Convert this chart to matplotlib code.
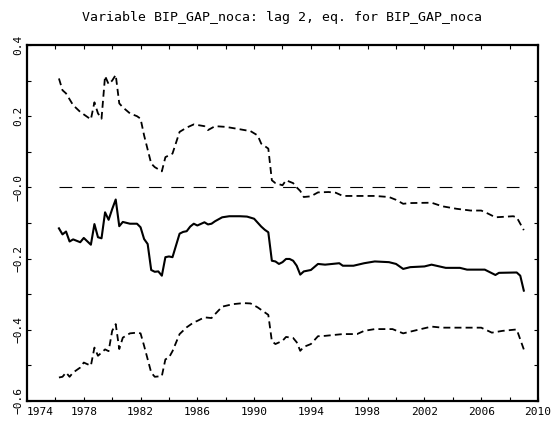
import matplotlib
matplotlib.use("Agg")
import matplotlib.pyplot as plt
from matplotlib.ticker import FixedLocator, FixedFormatter

plt.rcParams['lines.scale_dashes'] = False
plt.rcParams['font.family'] = ['DejaVu Sans Mono', 'DejaVu Sans']

title = "Variable BIP_GAP_noca: lag 2, eq. for BIP_GAP_noca"

# point estimate (solid)
years_mid = [1976.25, 1976.5, 1976.75, 1977.0, 1977.25, 1977.75, 1978.0, 1978.5, 1978.75,
             1979.0, 1979.25, 1979.5, 1979.75, 1980.0, 1980.25, 1980.5, 1980.75, 1981.25,
             1981.75, 1982.0, 1982.25, 1982.5, 1982.75, 1983.0, 1983.25, 1983.5, 1983.75,
             1984.0, 1984.25, 1984.75, 1985.0, 1985.25, 1985.5, 1985.75, 1986.0, 1986.5,
             1986.75, 1987.0, 1987.25, 1987.75, 1988.25, 1989.0, 1989.5, 1990.0, 1990.5,
             1990.75, 1991.0, 1991.25, 1991.5, 1991.75, 1992.0, 1992.25, 1992.5, 1992.75,
             1993.0, 1993.25, 1993.5, 1994.0, 1994.5, 1995.0, 1996.0, 1996.25, 1997.0,
             1997.75, 1998.5, 1999.5, 2000.0, 2000.5, 2001.0, 2002.0, 2002.5, 2003.5,
             2004.5, 2005.0, 2006.25, 2007.0, 2007.25, 2008.5, 2008.75, 2009.0]
mid = [-0.115, -0.132, -0.124, -0.152, -0.146, -0.154, -0.142, -0.161, -0.103,
       -0.140, -0.143, -0.070, -0.091, -0.061, -0.034, -0.109, -0.097, -0.102,
       -0.102, -0.112, -0.145, -0.159, -0.232, -0.237, -0.236, -0.248, -0.196,
       -0.194, -0.196, -0.130, -0.125, -0.123, -0.110, -0.102, -0.107, -0.098,
       -0.104, -0.102, -0.095, -0.084, -0.081, -0.081, -0.082, -0.088, -0.110,
       -0.119, -0.126, -0.206, -0.208, -0.215, -0.210, -0.201, -0.201, -0.206,
       -0.220, -0.245, -0.236, -0.232, -0.215, -0.217, -0.213, -0.220, -0.220,
       -0.213, -0.208, -0.210, -0.215, -0.229, -0.224, -0.222, -0.217, -0.226,
       -0.226, -0.231, -0.231, -0.246, -0.240, -0.239, -0.248, -0.290]

# upper band (dashed)
years_up = [1976.25, 1976.5, 1976.75, 1977.25, 1977.75, 1978.5, 1978.75, 1979.0, 1979.25,
            1979.5, 1979.75, 1980.0, 1980.25, 1980.5, 1980.75, 1981.25, 1981.75, 1982.0,
            1982.25, 1982.75, 1983.0, 1983.5, 1983.75, 1984.0, 1984.25, 1984.75, 1985.25,
            1985.75, 1986.5, 1986.75, 1987.25, 1988.0, 1988.75, 1989.75, 1990.25, 1990.5,
            1991.0, 1991.25, 1991.5, 1992.0, 1992.25, 1992.75, 1993.0, 1993.25, 1993.5,
            1994.0, 1994.5, 1995.25, 1995.75, 1996.25, 1997.25, 1998.5, 1999.5, 2000.0,
            2000.5, 2001.0, 2002.5, 2003.25, 2004.25, 2005.25, 2006.0, 2006.5, 2007.0,
            2008.25, 2008.5, 2009.0]
upper = [0.306, 0.273, 0.264, 0.231, 0.212, 0.191, 0.239, 0.208, 0.193,
         0.313, 0.290, 0.300, 0.316, 0.236, 0.225, 0.208, 0.200, 0.193,
         0.146, 0.067, 0.057, 0.045, 0.085, 0.090, 0.095, 0.156, 0.168,
         0.177, 0.172, 0.161, 0.172, 0.170, 0.165, 0.158, 0.146, 0.123,
         0.109, 0.020, 0.012, 0.006, 0.020, 0.012, 0.000, -0.010, -0.027,
         -0.025, -0.014, -0.013, -0.015, -0.024, -0.024, -0.024, -0.027, -0.035,
         -0.046, -0.044, -0.043, -0.053, -0.060, -0.065, -0.065, -0.074, -0.084,
         -0.081, -0.084, -0.120]

# lower band (dashed)
years_lo = [1976.25, 1976.5, 1976.75, 1977.0, 1977.25, 1977.75, 1978.0, 1978.5, 1978.75,
            1979.0, 1979.25, 1979.5, 1979.75, 1980.0, 1980.25, 1980.5, 1980.75, 1981.25,
            1981.75, 1982.0, 1982.25, 1982.75, 1983.0, 1983.5, 1983.75, 1984.0, 1984.25,
            1984.75, 1985.25, 1985.75, 1986.0, 1986.5, 1987.0, 1987.25, 1987.75, 1988.5,
            1989.25, 1989.75, 1990.25, 1990.75, 1991.0, 1991.25, 1991.5, 1992.0, 1992.25,
            1992.75, 1993.0, 1993.25, 1993.5, 1994.0, 1994.5, 1995.0, 1996.25, 1997.25,
            1997.75, 1998.5, 1999.75, 2000.5, 2001.75, 2002.5, 2003.25, 2006.0, 2006.75,
            2007.5, 2008.5, 2009.0]
lower = [-0.534, -0.532, -0.520, -0.532, -0.520, -0.506, -0.492, -0.501, -0.450,
         -0.473, -0.464, -0.455, -0.460, -0.403, -0.384, -0.454, -0.422, -0.410,
         -0.408, -0.410, -0.445, -0.520, -0.532, -0.530, -0.483, -0.478, -0.460,
         -0.412, -0.393, -0.379, -0.375, -0.365, -0.367, -0.356, -0.335, -0.328,
         -0.325, -0.326, -0.337, -0.351, -0.358, -0.432, -0.440, -0.431, -0.420,
         -0.423, -0.435, -0.459, -0.448, -0.440, -0.418, -0.417, -0.412, -0.412,
         -0.403, -0.398, -0.398, -0.410, -0.398, -0.391, -0.394, -0.394, -0.408,
         -0.403, -0.399, -0.455]

xticks = list(range(1974, 2011, 2))
xtick_labels = ['1974', '', '1978', '', '1982', '', '1986', '', '1990', '', '1994', '',
                '1998', '', '2002', '', '2006', '', '2010']
yticks = [-0.6, -0.5, -0.4, -0.3, -0.2, -0.1, 0.0, 0.1, 0.2, 0.3, 0.4]
ytick_labels = ['\u22120.6', '', '\u22120.4', '', '\u22120.2', '', '\u22120.0', '', '0.2', '', '0.4']

fig = plt.figure(figsize=(5.55, 4.3), dpi=100)
ax = fig.add_axes([27 / 555, 29 / 430, 511 / 555, 356 / 430])

ax.plot([years_mid[0], years_mid[-1]], [0.0, 0.0], color='black', linewidth=0.8,
        dashes=(9.2, 6.9))
ax.plot(years_up, upper, color='black', linewidth=1.3, dashes=(5.0, 3.0))
ax.plot(years_lo, lower, color='black', linewidth=1.3, dashes=(5.0, 3.0))
ax.plot(years_mid, mid, color='black', linewidth=1.5)

ax.set_xlim(1974, 2010)
ax.set_ylim(-0.6, 0.4)
ax.xaxis.set_major_locator(FixedLocator(xticks))
ax.xaxis.set_major_formatter(FixedFormatter(xtick_labels))
ax.yaxis.set_major_locator(FixedLocator(yticks))
ax.yaxis.set_major_formatter(FixedFormatter(ytick_labels))

for s in ax.spines.values():
    s.set_linewidth(1.6)

ax.tick_params(axis='both', which='major', direction='in', length=3, width=0.8,
               top=True, right=True, labelsize=8)
ax.tick_params(axis='x', pad=4)
ax.tick_params(axis='y', pad=2.5, labelrotation=90)
for lab in ax.get_yticklabels():
    lab.set_va('center')
ax.get_xticklabels()[0].set_ha('left')

fig.text(282.5 / 555, 1 - 20.7 / 430, title, ha='center', va='baseline', fontsize=9.5)

fig.savefig('out.png', dpi=100)
